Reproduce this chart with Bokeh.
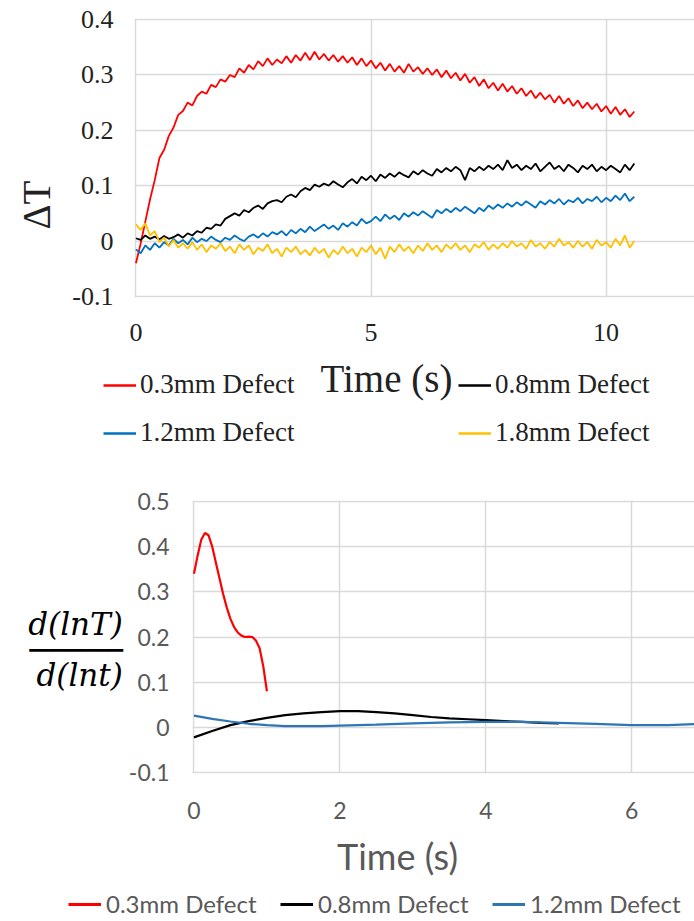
from bokeh.plotting import figure
from bokeh.models import Range1d, FixedTicker, Label, Legend, LegendItem, Title
from bokeh.embed import file_html
from bokeh.resources import INLINE

# ---------------- data: top chart (delta T vs time) ----------------
names_top = ["0.3mm Defect", "0.8mm Defect", "1.2mm Defect", "1.8mm Defect"]
colors_top = ["#ff0000", "#000000", "#0070c0", "#ffc000"]
t_top = [round(i * 0.1, 1) for i in range(107)]

dT_03 = [-0.040, -0.005, 0.035, 0.075, 0.110, 0.150, 0.165, 0.190, 0.205, 0.228,
         0.235, 0.250, 0.245, 0.262, 0.270, 0.266, 0.282, 0.278, 0.292, 0.288,
         0.300, 0.296, 0.312, 0.304, 0.318, 0.310, 0.325, 0.316, 0.330, 0.318,
         0.328, 0.321, 0.334, 0.322, 0.336, 0.326, 0.340, 0.327, 0.342, 0.328,
         0.338, 0.326, 0.336, 0.324, 0.334, 0.322, 0.332, 0.318, 0.330, 0.316,
         0.326, 0.312, 0.322, 0.308, 0.320, 0.306, 0.316, 0.304, 0.320, 0.306,
         0.314, 0.302, 0.312, 0.300, 0.310, 0.296, 0.308, 0.294, 0.304, 0.290,
         0.302, 0.286, 0.296, 0.280, 0.292, 0.276, 0.286, 0.272, 0.284, 0.270,
         0.280, 0.266, 0.276, 0.262, 0.272, 0.258, 0.268, 0.256, 0.264, 0.250,
         0.262, 0.248, 0.258, 0.244, 0.254, 0.240, 0.250, 0.238, 0.248, 0.234,
         0.244, 0.230, 0.242, 0.228, 0.238, 0.224, 0.234]
dT_08 = [0.005, 0.002, 0.010, 0.004, 0.008, 0.003, 0.009, 0.004, 0.007, 0.012,
         0.006, 0.014, 0.010, 0.018, 0.015, 0.024, 0.022, 0.030, 0.028, 0.040,
         0.045, 0.050, 0.046, 0.056, 0.052, 0.060, 0.064, 0.058, 0.068, 0.072,
         0.074, 0.070, 0.080, 0.084, 0.079, 0.090, 0.096, 0.092, 0.102, 0.098,
         0.104, 0.100, 0.108, 0.102, 0.097, 0.106, 0.112, 0.104, 0.116, 0.110,
         0.118, 0.108, 0.120, 0.114, 0.122, 0.116, 0.124, 0.119, 0.115, 0.126,
         0.120, 0.128, 0.122, 0.118, 0.130, 0.124, 0.132, 0.126, 0.134, 0.128,
         0.110, 0.132, 0.126, 0.134, 0.128, 0.136, 0.130, 0.138, 0.128, 0.146,
         0.132, 0.138, 0.128, 0.136, 0.130, 0.140, 0.126, 0.134, 0.142, 0.130,
         0.136, 0.126, 0.138, 0.132, 0.124, 0.136, 0.130, 0.138, 0.126, 0.134,
         0.128, 0.136, 0.130, 0.124, 0.138, 0.128, 0.140]
dT_12 = [-0.015, -0.022, -0.008, -0.016, -0.004, -0.012, -0.002, -0.008, 0.004, -0.004,
         0.002, -0.006, 0.006, -0.002, 0.004, 0.000, 0.008, 0.002, -0.002, 0.006,
         0.002, 0.010, 0.004, 0.000, 0.008, 0.012, 0.006, 0.014, 0.008, 0.016,
         0.012, 0.018, 0.010, 0.020, 0.014, 0.022, 0.016, 0.026, 0.018, 0.024,
         0.030, 0.022, 0.028, 0.020, 0.032, 0.026, 0.034, 0.028, 0.040, 0.032,
         0.036, 0.044, 0.036, 0.048, 0.040, 0.046, 0.038, 0.050, 0.044, 0.052,
         0.046, 0.054, 0.048, 0.042, 0.056, 0.050, 0.058, 0.052, 0.060, 0.054,
         0.062, 0.056, 0.050, 0.060, 0.054, 0.064, 0.058, 0.066, 0.060, 0.068,
         0.062, 0.070, 0.064, 0.072, 0.066, 0.060, 0.072, 0.066, 0.074, 0.068,
         0.076, 0.066, 0.074, 0.070, 0.078, 0.068, 0.076, 0.072, 0.080, 0.070,
         0.078, 0.072, 0.082, 0.074, 0.086, 0.072, 0.080]
dT_18 = [0.030, 0.020, 0.032, 0.010, 0.018, -0.002, 0.006, -0.010, 0.002, -0.012,
         -0.004, -0.014, -0.002, -0.016, -0.006, -0.020, -0.008, -0.014, -0.004, -0.018,
         -0.010, -0.022, -0.006, -0.016, -0.008, -0.024, -0.012, -0.018, -0.006, -0.022,
         -0.014, -0.028, -0.012, -0.020, -0.010, -0.024, -0.016, -0.026, -0.012, -0.022,
         -0.014, -0.030, -0.016, -0.024, -0.010, -0.022, -0.014, -0.028, -0.012, -0.020,
         -0.008, -0.024, -0.012, -0.032, -0.010, -0.020, -0.006, -0.018, -0.010, -0.022,
         -0.008, -0.018, -0.004, -0.016, -0.008, -0.020, -0.006, -0.014, -0.004, -0.016,
         -0.008, -0.020, -0.006, -0.012, -0.002, -0.016, -0.006, -0.014, -0.004, -0.012,
         0.000, -0.010, -0.004, -0.014, 0.002, -0.010, -0.004, -0.014, -0.002, -0.010,
         0.004, -0.008, -0.002, -0.012, 0.000, -0.010, -0.002, -0.014, 0.002, -0.008,
         -0.002, -0.012, 0.004, -0.008, 0.010, -0.012, 0.000]
series_top = [dT_03, dT_08, dT_12, dT_18]
yticks_top = [-0.1, 0.0, 0.1, 0.2, 0.3, 0.4]
ylabels_top = ["-0.1", "0", "0.1", "0.2", "0.3", "0.4"]
xticks_top = [0, 5, 10]

# ---------------- data: bottom chart (d(lnT)/d(lnt) vs time) ----------------
names_bot = ["0.3mm Defect", "0.8mm Defect", "1.2mm Defect"]
colors_bot = ["#ff0000", "#000000", "#2e75b6"]
t_red = [0.0, 0.05, 0.1, 0.15, 0.2, 0.25, 0.3, 0.35, 0.4, 0.45, 0.5,
         0.55, 0.6, 0.65, 0.7, 0.75, 0.8, 0.85, 0.9, 0.95, 1.0]
slope_03 = [0.34, 0.38, 0.415, 0.43, 0.425, 0.40, 0.365, 0.33, 0.295, 0.265, 0.24,
            0.222, 0.21, 0.203, 0.20, 0.201, 0.20, 0.192, 0.175, 0.135, 0.08]
t_black = [0.0, 0.25, 0.5, 0.75, 1.0, 1.25, 1.5, 1.75, 2.0, 2.25, 2.5,
           2.75, 3.0, 3.25, 3.5, 3.75, 4.0, 4.25, 4.5, 4.75, 5.0]
slope_08 = [-0.022, -0.008, 0.005, 0.014, 0.021, 0.027, 0.031, 0.034, 0.036, 0.036, 0.034,
            0.031, 0.027, 0.023, 0.020, 0.018, 0.016, 0.014, 0.012, 0.010, 0.009]
t_blue = [0.0, 0.25, 0.5, 0.75, 1.0, 1.25, 1.5, 1.75, 2.0, 2.5, 3.0,
          3.5, 4.0, 4.5, 5.0, 5.5, 6.0, 6.5, 7.0]
slope_12 = [0.026, 0.019, 0.013, 0.008, 0.005, 0.003, 0.003, 0.003, 0.004, 0.006, 0.009,
            0.011, 0.012, 0.012, 0.010, 0.008, 0.005, 0.005, 0.008]
series_bot = [(t_red, slope_03), (t_black, slope_08), (t_blue, slope_12)]
yticks_bot = [-0.1, 0.0, 0.1, 0.2, 0.3, 0.4, 0.5]
ylabels_bot = ["-0.1", "0", "0.1", "0.2", "0.3", "0.4", "0.5"]
xticks_bot = [0, 2, 4, 6]

GRID = "#d9d9d9"
W = 694
OFF = 1000  # legend strips: data lies outside their visible x window


def style_axes(p, font, size, color, xstand, ystand):
    for ax in (p.xaxis, p.yaxis):
        ax.axis_line_color = None
        ax.major_tick_line_color = None
        ax.minor_tick_line_color = None
        ax.major_tick_out = 0
        ax.major_tick_in = 0
        ax.major_label_text_font = font
        ax.major_label_text_font_size = size
        ax.major_label_text_color = color
    p.xaxis.major_label_standoff = xstand
    p.yaxis.major_label_standoff = ystand
    p.grid.grid_line_color = GRID
    p.grid.grid_line_width = 1.5
    p.outline_line_color = None


def strip(height):
    q = figure(width=W, height=height, output_backend="svg", toolbar_location=None,
               x_range=Range1d(OFF, OFF + W), y_range=Range1d(0, height),
               x_axis_location=None, y_axis_location=None,
               min_border_left=0, min_border_right=0, min_border_top=0, min_border_bottom=0)
    q.grid.visible = False
    q.outline_line_color = None
    return q


# ================= A: top chart =================
SERIF = "Liberation Serif"
TOPTXT = "#222222"
pA = figure(width=W, height=356, output_backend="svg", toolbar_location=None,
            x_range=Range1d(-0.03, 11.88), y_range=Range1d(-0.102, 0.402),
            min_border_left=124, min_border_right=0, min_border_top=18, min_border_bottom=59)
for ys, c in zip(series_top, colors_top):
    pA.line(t_top, ys, line_color=c, line_width=1.8)
pA.xaxis.ticker = FixedTicker(ticks=xticks_top)
pA.yaxis.ticker = FixedTicker(ticks=yticks_top)
pA.yaxis.major_label_overrides = dict(zip(yticks_top, ylabels_top))
pA.xgrid.ticker = FixedTicker(ticks=xticks_top)
pA.ygrid.ticker = FixedTicker(ticks=yticks_top)
style_axes(pA, SERIF, "26px", TOPTXT, 26, 21)
pA.add_layout(Title(text="ΔT", align="left", offset=68, standoff=24,
                    text_font=SERIF, text_font_size="39px", text_font_style="normal",
                    text_color=TOPTXT), "left")

# ================= B: top legend strip =================
HB = 102
pB = strip(HB)
legB = [pB.line(t_top, ys, line_color=c, line_width=2.5) for ys, c in zip(series_top, colors_top)]
pB.add_layout(Label(x=OFF + 386, y=HB - 22, text="Time (s)", text_align="center",
                    text_baseline="middle", text_font=SERIF, text_font_size="39px",
                    text_color=TOPTXT))
pB.add_layout(Legend(items=[LegendItem(label=n, renderers=[r]) for n, r in zip(names_top, legB)],
                     location=(103, 10), orientation="horizontal", ncols=2,
                     glyph_width=33, glyph_height=28, label_height=28, label_width=301,
                     label_standoff=4, spacing=17, padding=0, border_line_color=None,
                     background_fill_alpha=0, label_text_font=SERIF,
                     label_text_font_size="27px", label_text_color=TOPTXT))

# ================= C: bottom chart =================
SANS = "Lato"
BOTTXT = "#595959"
pC = figure(width=W, height=375, output_backend="svg", toolbar_location=None,
            x_range=Range1d(-0.02, 6.86), y_range=Range1d(-0.102, 0.502),
            min_border_left=192, min_border_right=0, min_border_top=42, min_border_bottom=60)
for (xs, ys), c in zip(series_bot, colors_bot):
    pC.line(xs, ys, line_color=c, line_width=2.2)
pC.xaxis.ticker = FixedTicker(ticks=xticks_bot)
pC.yaxis.ticker = FixedTicker(ticks=yticks_bot)
pC.yaxis.major_label_overrides = dict(zip(yticks_bot, ylabels_bot))
pC.xgrid.ticker = FixedTicker(ticks=xticks_bot)
pC.ygrid.ticker = FixedTicker(ticks=yticks_bot)
style_axes(pC, SANS, "23px", BOTTXT, 28, 23)
pC.yaxis.axis_label = " \nd(lnT)\n─────\nd(lnt)"
pC.yaxis.axis_label_orientation = "horizontal"
pC.yaxis.axis_label_standoff = 3
pC.yaxis.axis_label_text_font = "DejaVu Serif"
pC.yaxis.axis_label_text_font_style = "italic"
pC.yaxis.axis_label_text_font_size = "31px"
pC.yaxis.axis_label_text_color = "#000000"
pC.yaxis.axis_label_text_line_height = 0.7

# ================= D: bottom legend strip =================
HD = 87
pD = strip(HD)
legD = [pD.line(xs, ys, line_color=c, line_width=3) for (xs, ys), c in zip(series_bot, colors_bot)]
pD.add_layout(Label(x=OFF + 397, y=HD - 22, text="Time (s)", text_align="center",
                    text_baseline="middle", text_font=SANS, text_font_size="36px",
                    text_color=BOTTXT))
pD.add_layout(Legend(items=[LegendItem(label=n, renderers=[r]) for n, r in zip(names_bot, legD)],
                     location=(68, 2), orientation="horizontal",
                     glyph_width=33, glyph_height=26, label_height=26, label_width=164,
                     label_standoff=5, spacing=10, padding=0, border_line_color=None,
                     background_fill_alpha=0, label_text_font=SANS,
                     label_text_font_size="24px", label_text_color=BOTTXT))

open("out.html", "w").write(file_html([pA, pB, pC, pD], INLINE))
